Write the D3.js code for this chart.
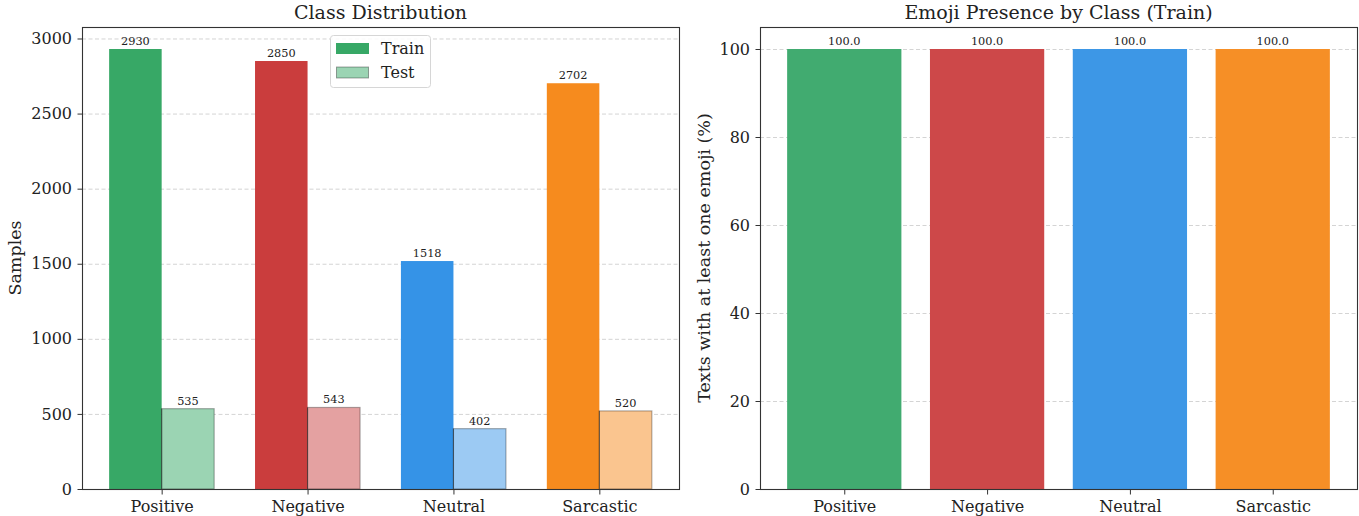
<!DOCTYPE html>
<html><head><meta charset="utf-8">
<script src="https://cdn.jsdelivr.net/npm/d3@7"></script>
<style>
body{margin:0;background:#fff;}
text{font-family:"DejaVu Serif",serif;fill:#222;}
</style></head>
<body><svg id="c" width="1359" height="516"></svg>
<script>
const categories = ["Positive","Negative","Neutral","Sarcastic"];
const trainCounts = [2930,2850,1518,2702];
const testCounts = [535,543,402,520];
const emojiPct = [100.0,100.0,100.0,100.0];
const yTicksLeft = [0,500,1000,1500,2000,2500,3000];
const yTicksRight = [0,20,40,60,80,100];
const trainColors = ["#37a866","#ca3d3d","#3593e7","#f68b1e"];
const testColors = ["#9bd4b3","#e4a1a1","#9ccaf3","#fac58f"];
const rightColors = ["#41ab70","#cd4849","#3d97e6","#f68f26"];

const svg = d3.select("#c");
const plotTop=27, plotBottom=489;
const tickFont="16px", labelFont="17.5px", titleFont="19px", valFont="11.3px";

function axesFrame(g, x0, x1, y, ticks){
  g.selectAll(".grid").data(ticks).enter().append("line")
    .attr("x1",x0).attr("x2",x1).attr("y1",d=>y(d)+0.5).attr("y2",d=>y(d)+0.5)
    .attr("stroke","#cfcfcf").attr("stroke-width",0.9).attr("stroke-dasharray","4,2.5");
}
function axesDecor(g, x0, x1, y, ticks, xpos, labels){
  g.append("rect").attr("x",x0+0.5).attr("y",plotTop+0.5).attr("width",x1-x0).attr("height",plotBottom-plotTop)
    .attr("fill","none").attr("stroke","#333").attr("stroke-width",1.1);
  const ya = g.append("g").attr("transform",`translate(${x0+0.5},0)`)
    .call(d3.axisLeft(y).tickValues(ticks).tickSize(5).tickPadding(5.5).tickFormat(d3.format("d")));
  ya.select(".domain").remove();
  ya.selectAll("line").attr("stroke","#333");
  ya.selectAll("text").style("font-size",tickFont).style("fill","#222");
  const xa = g.append("g").attr("transform",`translate(0,${plotBottom+0.5})`)
    .call(d3.axisBottom(xpos).tickValues(d3.range(labels.length)).tickSize(5).tickPadding(6).tickFormat(i=>labels[i]));
  xa.select(".domain").remove();
  xa.selectAll("line").attr("stroke","#333");
  xa.selectAll("text").style("font-size",tickFont).style("fill","#222");
}

// LEFT
{
  const x0=82, x1=679;
  const x = d3.scaleLinear().domain([-0.546,3.546]).range([x0,x1]);
  const y = d3.scaleLinear().domain([0,3076.5]).range([plotBottom,plotTop]);
  const g = svg.append("g");
  axesFrame(g,x0,x1,y,yTicksLeft.slice(1));
  const w=0.36;
  g.selectAll(".tr").data(trainCounts).enter().append("rect")
    .attr("x",(d,i)=>x(i-w)).attr("width",(d,i)=>x(i)-x(i-w))
    .attr("y",d=>y(d)).attr("height",d=>y(0)-y(d)).attr("fill",(d,i)=>trainColors[i]);
  g.selectAll(".te").data(testCounts).enter().append("rect")
    .attr("x",(d,i)=>x(i)).attr("width",(d,i)=>x(i+w)-x(i))
    .attr("y",d=>y(d)).attr("height",d=>y(0)-y(d)).attr("fill",(d,i)=>testColors[i])
    .attr("stroke","rgba(0,0,0,0.3)").attr("stroke-width",1.2);
  g.selectAll(".tl").data(testCounts).enter().append("line")
    .attr("x1",(d,i)=>x(i)).attr("x2",(d,i)=>x(i)).attr("y1",d=>y(d)).attr("y2",plotBottom)
    .attr("stroke","rgba(0,0,0,0.6)").attr("stroke-width",0.8);
  g.selectAll(".trl").data(trainCounts).enter().append("text")
    .attr("x",(d,i)=>x(i-w/2)).attr("y",d=>y(d)-4).attr("text-anchor","middle")
    .style("font-size",valFont).text(d=>d);
  g.selectAll(".tel").data(testCounts).enter().append("text")
    .attr("x",(d,i)=>x(i+w/2)).attr("y",d=>y(d)-4).attr("text-anchor","middle")
    .style("font-size",valFont).text(d=>d);
  axesDecor(g,x0,x1,y,yTicksLeft,x,categories);
  g.append("text").attr("x",(x0+x1)/2).attr("y",19).attr("text-anchor","middle")
    .style("font-size",titleFont).text("Class Distribution");
  g.append("text").attr("transform",`translate(21,${(plotTop+plotBottom)/2}) rotate(-90)`)
    .attr("text-anchor","middle").style("font-size",labelFont).text("Samples");
  const L = g.append("g").attr("transform","translate(330,35)");
  L.append("rect").attr("x",0.5).attr("y",0.5).attr("width",100).attr("height",52).attr("rx",3)
    .attr("fill","rgba(255,255,255,0.85)").attr("stroke","#d6d6d6");
  L.append("rect").attr("x",6).attr("y",8).attr("width",33).attr("height",11).attr("fill",trainColors[0]);
  L.append("rect").attr("x",6.5).attr("y",32).attr("width",32).attr("height",11).attr("fill",testColors[0])
    .attr("stroke","rgba(0,0,0,0.35)").attr("stroke-width",1);
  L.append("text").attr("x",51).attr("y",19).style("font-size",tickFont).text("Train");
  L.append("text").attr("x",51).attr("y",43).style("font-size",tickFont).text("Test");
}

// RIGHT
{
  const x0=760, x1=1357;
  const x = d3.scaleLinear().domain([-0.59,3.59]).range([x0,x1]);
  const y = d3.scaleLinear().domain([0,105]).range([plotBottom,plotTop]);
  const g = svg.append("g");
  axesFrame(g,x0,x1,y,yTicksRight.slice(1));
  g.selectAll(".b").data(emojiPct).enter().append("rect")
    .attr("x",(d,i)=>x(i-0.4)).attr("width",(d,i)=>x(i+0.4)-x(i-0.4))
    .attr("y",d=>y(d)).attr("height",d=>y(0)-y(d)).attr("fill",(d,i)=>rightColors[i]);
  g.selectAll(".bl").data(emojiPct).enter().append("text")
    .attr("x",(d,i)=>x(i)).attr("y",d=>y(d)-4).attr("text-anchor","middle")
    .style("font-size",valFont).text(d=>d.toFixed(1));
  axesDecor(g,x0,x1,y,yTicksRight,x,categories);
  g.append("text").attr("x",(x0+x1)/2).attr("y",19).attr("text-anchor","middle")
    .style("font-size",titleFont).text("Emoji Presence by Class (Train)");
  g.append("text").attr("transform",`translate(710,${(plotTop+plotBottom)/2}) rotate(-90)`)
    .attr("text-anchor","middle").style("font-size",labelFont).text("Texts with at least one emoji (%)");
}
</script></body></html>
